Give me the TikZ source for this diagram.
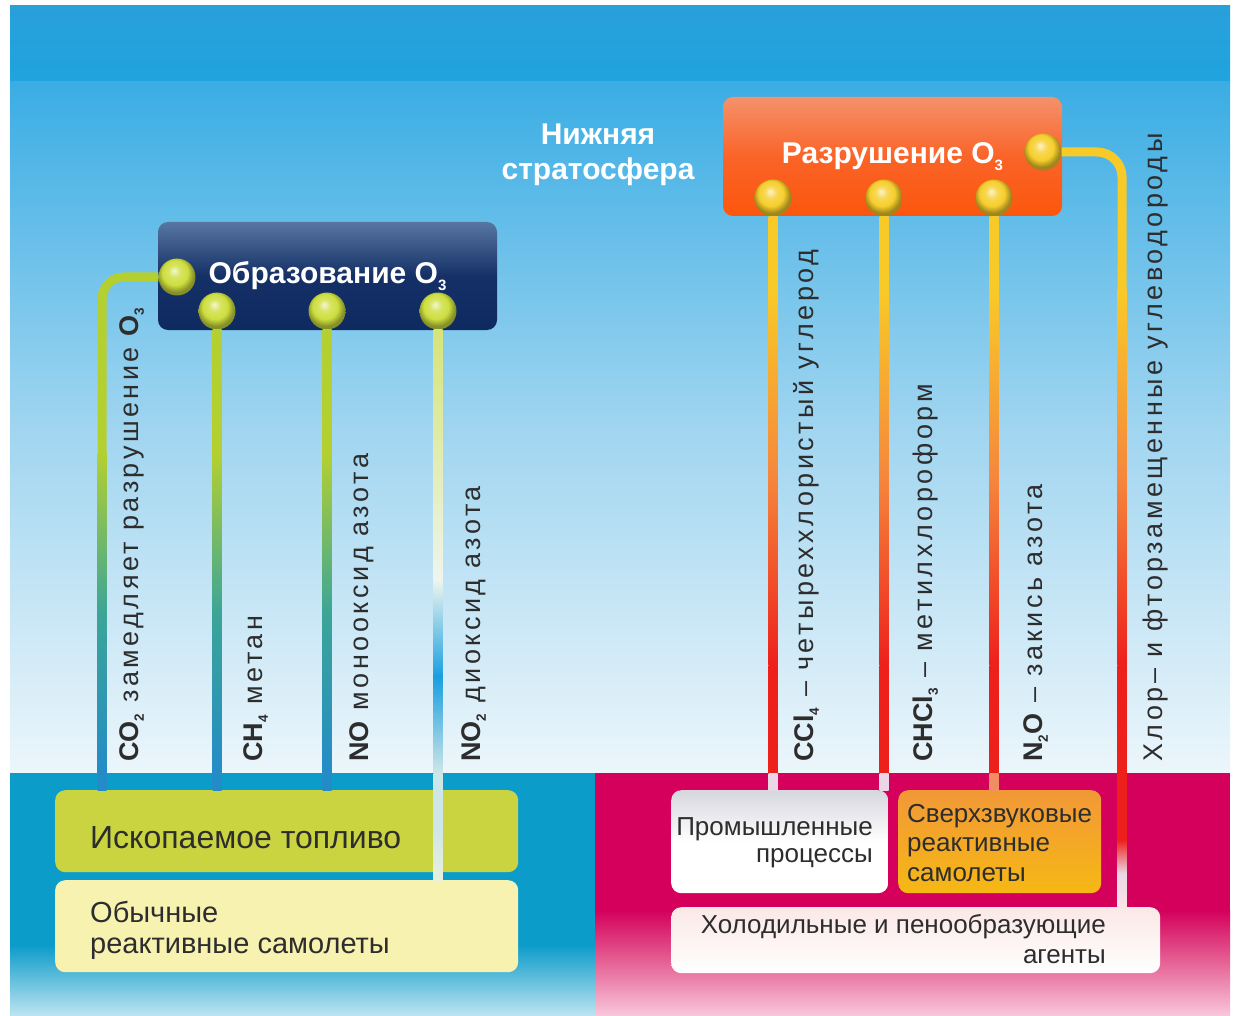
\documentclass[tikz,border=0pt]{standalone}
\usepackage{fontspec}
\setmainfont{Liberation Sans}
\newfontfamily\spacedfont[LetterSpace=13]{Liberation Sans}
\usetikzlibrary{calc}

\definecolor{skytop}{RGB}{40,160,218}
\definecolor{skyband}{RGB}{32,163,222}
\definecolor{skyhigh}{RGB}{58,173,228}
\definecolor{skymid}{RGB}{160,213,240}
\definecolor{skylow}{RGB}{236,246,251}
\definecolor{seablue}{RGB}{12,156,202}
\definecolor{seapale}{RGB}{190,228,242}
\definecolor{crimson}{RGB}{212,0,92}
\definecolor{crimsonmid}{RGB}{230,100,150}
\definecolor{crimsonpale}{RGB}{248,200,220}
\definecolor{navyhi}{RGB}{88,118,162}
\definecolor{navymid}{RGB}{20,48,102}
\definecolor{navy}{RGB}{14,42,96}
\definecolor{flamehi}{RGB}{245,145,108}
\definecolor{flamemid}{RGB}{250,100,40}
\definecolor{flame}{RGB}{252,86,12}
\definecolor{limeknob}{RGB}{205,222,62}
\definecolor{goldknob}{RGB}{246,206,44}
\definecolor{limeline}{RGB}{180,208,48}
\definecolor{tealline}{RGB}{60,165,150}
\definecolor{blueline}{RGB}{35,140,200}
\definecolor{no2top}{RGB}{214,228,120}
\definecolor{no2mid}{RGB}{226,236,176}
\definecolor{no2white}{RGB}{238,245,238}
\definecolor{skyline}{RGB}{26,158,224}
\definecolor{no2pale}{RGB}{205,230,232}
\definecolor{jetline}{RGB}{232,240,220}
\definecolor{goldline}{RGB}{248,202,40}
\definecolor{orangeline}{RGB}{245,135,60}
\definecolor{redline}{RGB}{238,32,28}
\definecolor{pinkline}{RGB}{234,214,228}
\definecolor{salmonline}{RGB}{242,140,100}
\definecolor{palepink}{RGB}{250,228,232}
\definecolor{fuelfill}{RGB}{202,212,64}
\definecolor{jetfill}{RGB}{248,242,176}
\definecolor{indtop}{RGB}{214,214,222}
\definecolor{ssttop}{RGB}{242,152,56}
\definecolor{sstbottom}{RGB}{246,184,20}
\definecolor{frigtop}{RGB}{250,232,230}
\definecolor{inktext}{RGB}{45,45,45}

\pgfdeclareradialshading{limeshade}{\pgfpoint{-4bp}{9bp}}{color(0bp)=(limeknob!25!white); color(8bp)=(limeknob!80!white); color(17bp)=(limeknob); color(25bp)=(limeknob!65!black); color(50bp)=(limeknob!65!black)}
\pgfdeclareradialshading{goldshade}{\pgfpoint{-4bp}{9bp}}{color(0bp)=(goldknob!25!white); color(8bp)=(goldknob!80!white); color(17bp)=(goldknob); color(25bp)=(goldknob!65!black); color(50bp)=(goldknob!65!black)}

\newcommand{\setpt}[2]{\fontsize{#1}{#2}\selectfont}
\newcommand{\lowsub}[1]{\raisebox{-0.22em}{\scalebox{0.5}{#1}}}
\newcommand{\chemname}[1]{{\normalfont\bfseries #1}}
\newcommand{\linkbar}[5]{\shade[top color=#3,bottom color=#5,middle color=#4] ($(#1)+(-4.5,0)$) rectangle ($(#2)+(4.5,0)$);}

\begin{document}
\begin{tikzpicture}[x=1pt,y=-1pt]
    \tikzstyle{titlebox}=[rectangle,rounded corners=10pt,inner sep=0pt,text=white,font=\bfseries\setpt{30}{30}]
    \tikzstyle{srcbox}=[rectangle,rounded corners=10pt,inner sep=0pt,anchor=north west]
    \tikzstyle{limeball}=[circle,inner sep=0pt,minimum size=37pt,shade,shading=limeshade]
    \tikzstyle{goldball}=[circle,inner sep=0pt,minimum size=37pt,shade,shading=goldshade]
    \tikzstyle{vlabel}=[rotate=90,anchor=base west,inner sep=0pt,text=inktext,font=\spacedfont\setpt{27}{27}]
    \tikzstyle{boxtext}=[inner sep=0pt,text=inktext]

    \useasboundingbox (0,0) rectangle (1234,1016);
    \fill[white] (0,0) rectangle (1234,1016);

    % sky and ground
    \shade[top color=skytop,bottom color=skyband] (10,6) rectangle (1230,82);
    \shade[top color=skyhigh,bottom color=skylow,middle color=skymid] (10,82) rectangle (1230,773);
    \fill[seablue] (10,773) rectangle (595,945);
    \shade[top color=seablue,bottom color=seapale] (10,945) rectangle (595,1016);
    \fill[crimson] (595,773) rectangle (1230,910);
    \shade[top color=crimson,bottom color=crimsonpale,middle color=crimsonmid] (595,910) rectangle (1230,1016);

    % sources
    \node (fuel)[srcbox,fill=fuelfill,minimum width=463pt,minimum height=82pt] at (55,790) {};
    \node (jets)[srcbox,fill=jetfill,minimum width=463pt,minimum height=92pt] at (55,880) {};
    \node (ind)[srcbox,top color=indtop,bottom color=white,middle color=white,minimum width=217pt,minimum height=103pt] at (671,790) {};
    \node (sst)[srcbox,top color=ssttop,bottom color=sstbottom,minimum width=203pt,minimum height=103pt] at (898,790) {};
    \node (frig)[srcbox,top color=frigtop,bottom color=white,minimum width=489pt,minimum height=66pt] at (671,907) {};

    \node (form)[titlebox,top color=navyhi,bottom color=navy,middle color=navymid,minimum width=339pt,minimum height=108pt] at (327.5,276) {Образование O\lowsub{3}};
    \node (destr)[titlebox,top color=flamehi,bottom color=flame,middle color=flamemid,minimum width=339pt,minimum height=119pt] at (892.5,156.5) {Разрушение O\lowsub{3}};
    \node (strat)[align=center,text=white,font=\bfseries\setpt{30}{35}] at (598,155) {Нижняя\\стратосфера};

    \node (fb0)[limeball] at (177,277) {};
    \node (fb1)[limeball] at (217,311) {};
    \node (fb2)[limeball] at (327,311) {};
    \node (fb3)[limeball] at (438,311) {};
    \node (db0)[goldball] at (1043,152) {};
    \node (db1)[goldball] at (773,198) {};
    \node (db2)[goldball] at (884,198) {};
    \node (db3)[goldball] at (994,198) {};

    \coordinate (glow) at (0,290);
    \coordinate (fade) at (0,453);
    \coordinate (cool) at (0,580);
    \coordinate (burn) at (0,665);
    \coordinate (horizon) at (0,773);
    \coordinate (melt) at (0,840);
    \coordinate (co2foot) at (102,790);
    \coordinate (cfcfoot) at (1122,907);

    % formation links
    \draw[line width=9pt,draw=limeline,rounded corners=22pt] (fb0.west) -| (co2foot);
    \linkbar{co2foot |- fade}{co2foot |- horizon}{limeline}{tealline}{blueline}
    \linkbar{co2foot |- horizon}{co2foot}{blueline}{blueline}{blueline}
    \foreach \b in {fb1,fb2} {
        \linkbar{\b.south}{\b.south |- fade}{limeline}{limeline}{limeline}
        \linkbar{\b.south |- fade}{\b.south |- horizon}{limeline}{tealline}{blueline}
        \linkbar{\b.south |- horizon}{\b.south |- fuel.north}{blueline}{blueline}{blueline}
    }
    \linkbar{fb3.south}{fb3.south |- cool}{no2top}{no2mid}{no2white}
    \linkbar{fb3.south |- cool}{fb3.south |- horizon}{no2white}{skyline}{no2pale}
    \linkbar{fb3.south |- horizon}{fb3.south |- jets.north}{no2pale}{no2pale}{jetline}

    % destruction links
    \draw[line width=9pt,draw=goldline,rounded corners=25pt] (db0.east) -| (cfcfoot);
    \foreach \b in {db1,db2,db3} {
        \linkbar{\b.south}{\b.south |- glow}{goldline}{goldline}{goldline}
        \linkbar{\b.south |- glow}{\b.south |- burn}{goldline}{orangeline}{redline}
        \linkbar{\b.south |- burn}{\b.south |- horizon}{redline}{redline}{redline}
    }
    \linkbar{db1.south |- horizon}{db1.south |- ind.north}{pinkline}{pinkline}{pinkline}
    \linkbar{db2.south |- horizon}{db2.south |- ind.north}{pinkline}{pinkline}{pinkline}
    \linkbar{db3.south |- horizon}{db3.south |- sst.north}{salmonline}{salmonline}{salmonline}
    \linkbar{cfcfoot |- glow}{cfcfoot |- burn}{goldline}{orangeline}{redline}
    \linkbar{cfcfoot |- burn}{cfcfoot |- melt}{redline}{redline}{redline}
    \linkbar{cfcfoot |- melt}{cfcfoot}{redline}{pinkline}{palepink}

    % labels
    \node (co2)[vlabel] at (138,762) {\chemname{CO\lowsub{2}} замедляет разрушение \chemname{O\lowsub{3}}};
    \node (ch4)[vlabel] at (262,762) {\chemname{CH\lowsub{4}} метан};
    \node (no)[vlabel] at (368,762) {\chemname{NO} монооксид азота};
    \node (no2)[vlabel] at (480,762) {\chemname{NO\lowsub{2}} диоксид азота};
    \node (ccl4)[vlabel] at (813,762) {\chemname{CCl\lowsub{4}} – четыреххлористый углерод};
    \node (chcl3)[vlabel] at (932,762) {\chemname{CHCl\lowsub{3}} – метилхлороформ};
    \node (n2o)[vlabel] at (1042,762) {\chemname{N\lowsub{2}O} – закись азота};
    \node (cfc)[vlabel] at (1162,762) {Хлор– и фторзамещенные углеводороды};

    \node (fueltext)[boxtext,anchor=base west,font=\setpt{32}{32}] at (90,848) {Ископаемое топливо};
    \node (jetstext)[boxtext,anchor=north west,align=left,font=\setpt{29}{31}] at (90,901) {Обычные\\реактивные самолеты};
    \node (indtext)[boxtext,anchor=north east,align=right,font=\setpt{26}{27}] at (873,817) {Промышленные\\процессы};
    \node (ssttext)[boxtext,anchor=north west,align=left,font=\setpt{26}{29.5}] at (907,804) {Сверхзвуковые\\реактивные\\самолеты};
    \node (frigtext)[boxtext,anchor=north east,align=right,font=\setpt{26}{30}] at (1106,914) {Холодильные и пенообразующие\\агенты};
\end{tikzpicture}
\end{document}
